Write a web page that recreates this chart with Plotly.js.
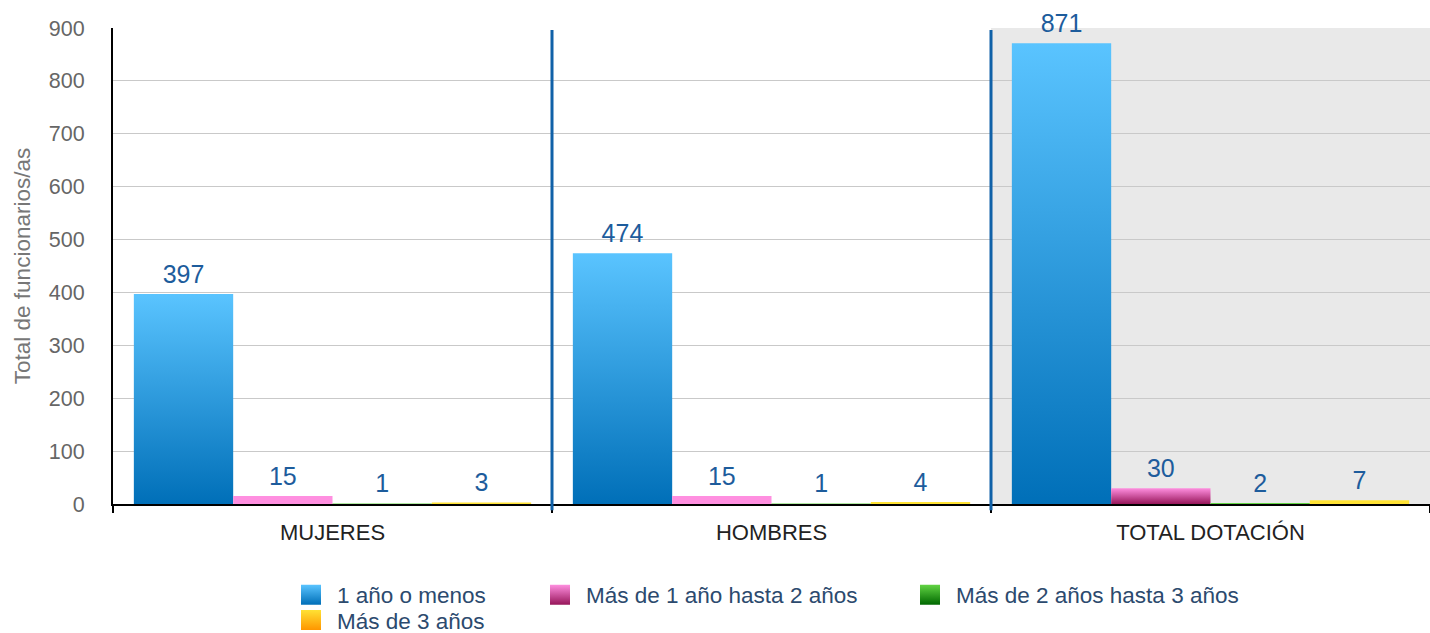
<!DOCTYPE html>
<html><head><meta charset="utf-8">
<script src="https://cdn.plot.ly/plotly-3.0.1.min.js"></script>
<style>html,body{margin:0;padding:0;background:#fff}#chart{width:1430px;height:633px}</style>
</head><body><div id="chart"></div>
<script>
const categories = ['MUJERES', 'HOMBRES', 'TOTAL DOTACIÓN'];
const seriesNames = ['1 año o menos', 'Más de 1 año hasta 2 años', 'Más de 2 años hasta 3 años', 'Más de 3 años'];
const unAnioOMenos = [397, 474, 871];
const masDe1Hasta2 = [15, 15, 30];
const masDe2Hasta3 = [1, 1, 2];
const masDe3 = [3, 4, 7];
const yTickValues = [0, 100, 200, 300, 400, 500, 600, 700, 800, 900];
const yAxisTitle = 'Total de funcionarios/as';

const seriesValues = [unAnioOMenos, masDe1Hasta2, masDe2Hasta3, masDe3];
const gradTop = ['#5ac4ff', '#ff8fe0', '#62d444', '#ffe234'];
const gradBottom = ['#006fb8', '#97165a', '#006800', '#ff9600'];
const legendIds = ['legend', 'legend2', 'legend3', 'legend4'];
// legend swatch pixel anchors (layout only)
const legendPix = [[301, 595], [550, 595], [920, 595], [301, 620.3]];

const W = 1430, H = 633, M = {l: 113, r: 0, t: 28, b: 129};
const FONT = 'Liberation Sans, Arial, Helvetica, sans-serif';

const traces = seriesValues.map((vals, i) => ({
  type: 'bar',
  x: categories,
  y: vals,
  name: seriesNames[i],
  legend: legendIds[i],
  marker: {color: gradTop[i], line: {width: 0}},
  text: vals.map(String),
  textposition: 'outside',
  textfont: {family: FONT, size: 25, color: '#1d5c9c'},
  cliponaxis: false,
  hoverinfo: 'none'
}));

const layout = {
  width: W, height: H,
  margin: M,
  paper_bgcolor: '#ffffff',
  plot_bgcolor: '#ffffff',
  barmode: 'group',
  bargap: 0.095,
  bargroupgap: 0,
  font: {family: FONT},
  xaxis: {
    type: 'category',
    range: [-0.5, 2.5],
    automargin: false,
    showline: true, linecolor: '#000', linewidth: 2,
    ticks: 'outside', tickson: 'boundaries', ticklen: 7, tickwidth: 2, tickcolor: '#000',
    showgrid: false, zeroline: false,
    tickfont: {family: FONT, size: 22, color: '#222'},
    ticklabelstandoff: 8
  },
  yaxis: {
    range: [0, 900],
    automargin: false,
    tickmode: 'array', tickvals: yTickValues,
    showgrid: true, gridcolor: '#c9c9c9', gridwidth: 1,
    showline: true, linecolor: '#000', linewidth: 2,
    zeroline: false, ticks: '',
    tickfont: {family: FONT, size: 21.5, color: '#666'},
    ticklabelstandoff: 22,
    title: {text: yAxisTitle, font: {family: FONT, size: 22.5, color: '#777'}, standoff: 12}
  },
  shapes: [
    {type: 'rect', xref: 'x', yref: 'paper', x0: 1.5, x1: 2.5, y0: 0, y1: 1,
     fillcolor: '#e9e9e9', line: {width: 0}, layer: 'below'},
    {type: 'line', xref: 'x', yref: 'paper', x0: 0.5, x1: 0.5, y0: -0.013, y1: 0.996,
     line: {color: '#1061a8', width: 3}, layer: 'above'},
    {type: 'line', xref: 'x', yref: 'paper', x0: 1.5, x1: 1.5, y0: -0.013, y1: 0.996,
     line: {color: '#1061a8', width: 3}, layer: 'above'}
  ],
  showlegend: true
};

legendIds.forEach((id, i) => {
  const [px, py] = legendPix[i];
  layout[id] = {
    xref: 'container', yref: 'container',
    x: (px - 4) / W,
    y: 1 - py / H,
    xanchor: 'left', yanchor: 'middle',
    orientation: 'h',
    bgcolor: 'rgba(0,0,0,0)',
    font: {family: FONT, size: 22.5, color: '#2c4a6e'}
  };
});

Plotly.newPlot('chart', traces, layout, {staticPlot: true, displayModeBar: false}).then(gd => {
  const ns = 'http://www.w3.org/2000/svg';
  const svg = gd.querySelector('svg.main-svg');
  let defs = svg.querySelector('defs');
  if (!defs) { defs = document.createElementNS(ns, 'defs'); svg.insertBefore(defs, svg.firstChild); }
  gradTop.forEach((c, i) => {
    const lg = document.createElementNS(ns, 'linearGradient');
    lg.setAttribute('id', 'barGrad' + i);
    lg.setAttribute('x1', '0'); lg.setAttribute('y1', '0');
    lg.setAttribute('x2', '0'); lg.setAttribute('y2', '1');
    [[0, c], [1, gradBottom[i]]].forEach(([o, col]) => {
      const s = document.createElementNS(ns, 'stop');
      s.setAttribute('offset', o);
      s.setAttribute('stop-color', col);
      lg.appendChild(s);
    });
    defs.appendChild(lg);
  });
  gd.querySelectorAll('.barlayer .trace').forEach((g, i) => {
    g.querySelectorAll('path').forEach(p => {
      const bb = p.getBBox();
      if (bb.height > 12) p.style.fill = 'url(#barGrad' + i + ')';
    });
    // slightly larger gap between bar top and its value label
    g.querySelectorAll('text').forEach(t => {
      const tr = t.getAttribute('transform') || '';
      t.setAttribute('transform', 'translate(0,-3) ' + tr);
    });
  });
  legendIds.forEach((id, i) => {
    const lg = gd.querySelector('g.' + id);
    if (!lg) return;
    lg.querySelectorAll('.legendpoints path').forEach(p => {
      p.setAttribute('d', 'M4,10H-16V-10H4Z');
      p.style.fill = 'url(#barGrad' + i + ')';
      p.style.stroke = 'none';
    });
  });
});
</script>
</body></html>
